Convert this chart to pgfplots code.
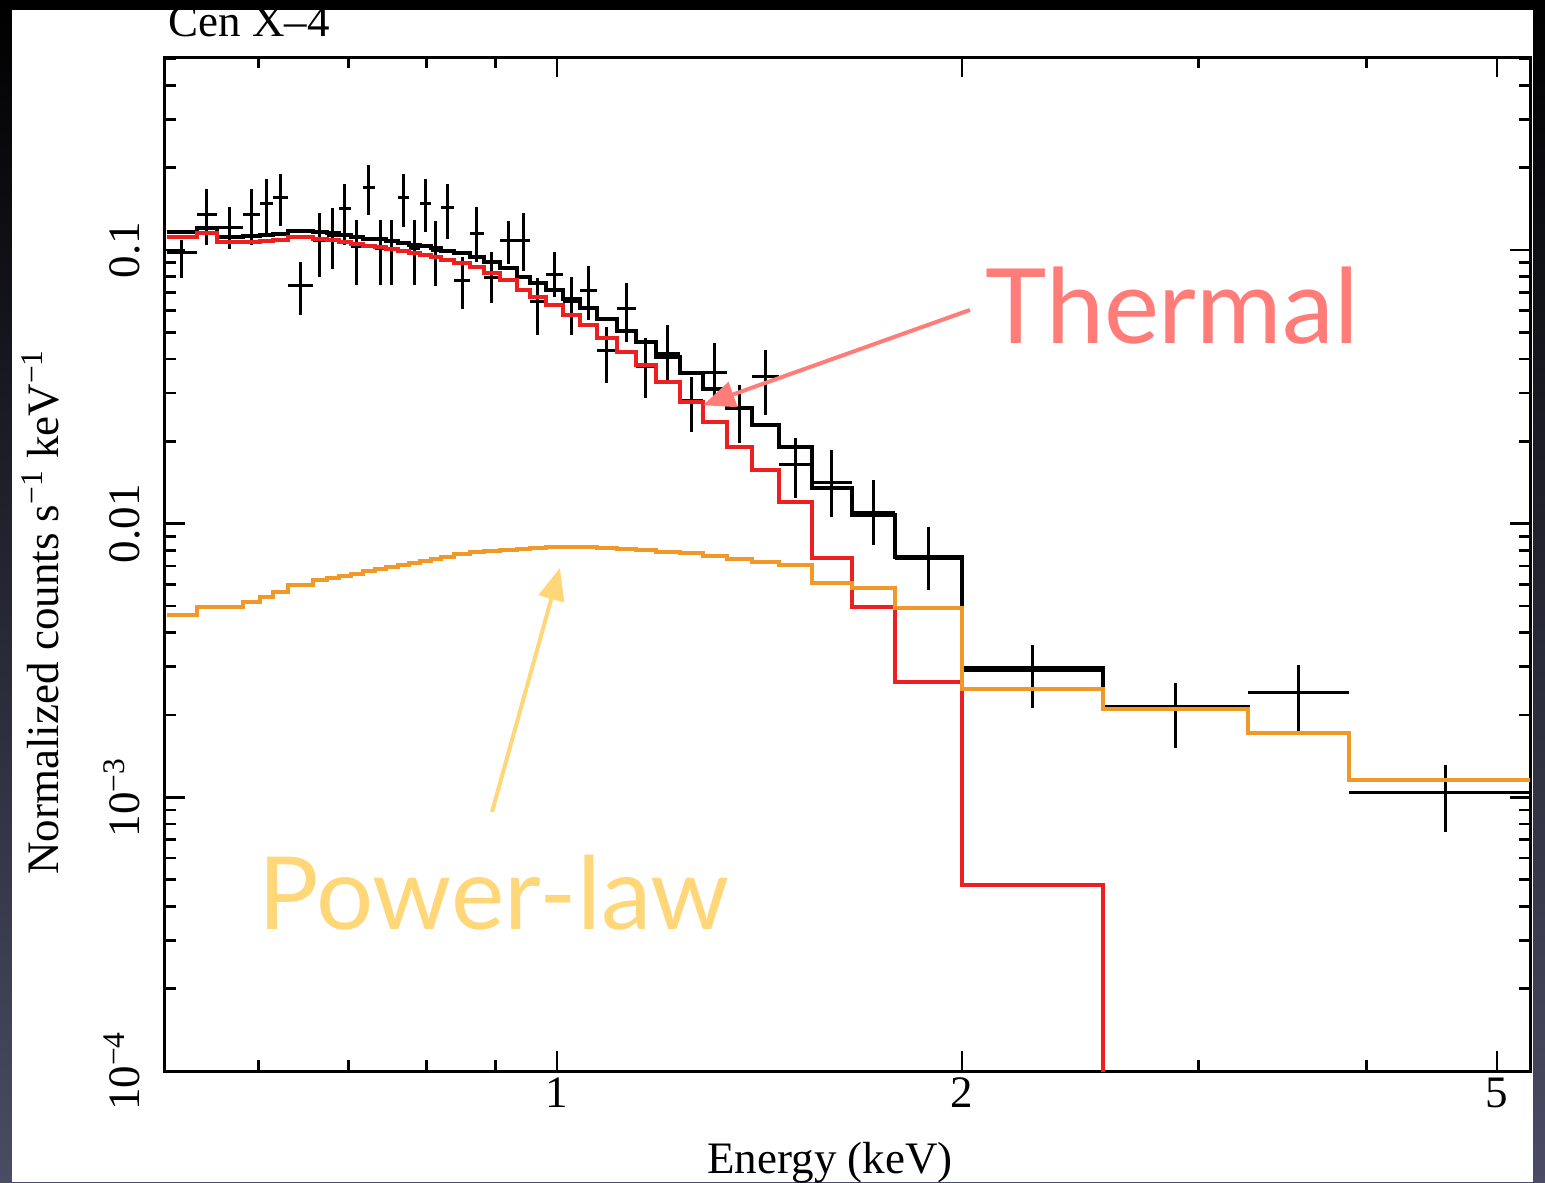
\documentclass[border=0pt]{standalone}
\usepackage{fontspec}
\setmainfont{Liberation Serif}
\newfontfamily\annfont{Lato}
\usepackage{pgfplots}
\pgfplotsset{compat=1.18}
\usepackage{pgfplotstable}
\usetikzlibrary{arrows.meta}

\definecolor{thermalred}{RGB}{236,32,32}
\definecolor{plorange}{RGB}{240,152,40}
\definecolor{thermaltext}{RGB}{255,124,120}
\definecolor{pltext}{RGB}{255,214,120}
\definecolor{bgbottom}{RGB}{74,76,100}

% Folded model: bin lower edge (keV), thermal, power-law and total (counts/s/keV)
\pgfplotstableread{
E      thermal  powerlaw  total
0.5129 0.1116   0.00464   0.1162
0.5400 0.1153   0.00496   0.1203
0.5587 0.1070   0.00496   0.1120
0.5841 0.1070   0.00517   0.1122
0.6015 0.1079   0.00540   0.1133
0.6150 0.1088   0.00563   0.1144
0.6310 0.1116   0.00597   0.1176
0.6586 0.1097   0.00623   0.1159
0.6745 0.1088   0.00633   0.1151
0.6885 0.1070   0.00644   0.1134
0.7028 0.1052   0.00655   0.1118
0.7174 0.1034   0.00672   0.1101
0.7323 0.1026   0.00683   0.1094
0.7462 0.1008   0.00695   0.1078
0.7617 0.0992   0.00706   0.1063
0.7762 0.0975   0.00719   0.1047
0.7909 0.0959   0.00731   0.1032
0.8059 0.0943   0.00743   0.1017
0.8199 0.0919   0.00756   0.0995
0.8384 0.0897   0.00775   0.0975
0.8617 0.0867   0.00788   0.0946
0.8826 0.0824   0.00795   0.0904
0.9070 0.0777   0.00801   0.0857
0.9338 0.0714   0.00808   0.0795
0.9548 0.0673   0.00815   0.0755
0.9813 0.0630   0.00822   0.0712
1.0103 0.0579   0.00822   0.0661
1.0402 0.0532   0.00822   0.0614
1.0709 0.0477   0.00815   0.0559
1.1082 0.0424   0.00808   0.0505
1.1449 0.0380   0.00801   0.0460
1.1847 0.0329   0.00788   0.0408
1.2344 0.0278   0.00782   0.0356
1.2840 0.0235   0.00762   0.0311
1.3378 0.0191   0.00743   0.0265
1.3963 0.0157   0.00725   0.0230
1.4623 0.0120   0.00706   0.0191
1.5472 0.00749  0.00607   0.01356
1.6570 0.00496  0.00582   0.01078
1.7836 0.00264  0.00492   0.00756
2.0000 0.000479 0.00249   0.00297
2.5466 1e-6     0.00210   0.00214
3.2642 1e-6     0.00172   0.00172
3.8800 1e-6     0.001158  0.001158
5.4000 1e-6     0.001158  0.001158
}\model

% Binned spectrum: centre, bin edges, rate and 1-sigma bounds
\pgfplotstableread{
x      xlo    xhi    y        ylo      yhi
0.5263 0.5129 0.5400 0.0983   0.0790   0.1088
0.5493 0.5400 0.5587 0.1354   0.1043   0.1670
0.5713 0.5587 0.5841 0.1213   0.1008   0.1436
0.5927 0.5841 0.6015 0.1354   0.1043   0.1670
0.6082 0.6015 0.6150 0.1484   0.1134   0.1817
0.6229 0.6150 0.6310 0.1562   0.1224   0.1895
0.6447 0.6310 0.6586 0.0739   0.0579   0.0904
0.6665 0.6586 0.6745 0.1079   0.0797   0.1365
0.6815 0.6745 0.6885 0.1134   0.0852   0.1424
0.6956 0.6885 0.7028 0.1424   0.1043   0.1742
0.7101 0.7028 0.7174 0.1026   0.0745   0.1287
0.7248 0.7174 0.7323 0.1699   0.1342   0.2045
0.7392 0.7323 0.7462 0.1017   0.0745   0.1287
0.7539 0.7462 0.7617 0.1017   0.0745   0.1287
0.7689 0.7617 0.7762 0.1562   0.1213   0.1895
0.7835 0.7762 0.7909 0.1017   0.0745   0.1287
0.7984 0.7909 0.8059 0.1484   0.1163   0.1817
0.8129 0.8059 0.8199 0.1000   0.0739   0.1276
0.8291 0.8199 0.8384 0.1436   0.1097   0.1742
0.8500 0.8384 0.8617 0.0777   0.0609   0.0943
0.8721 0.8617 0.8826 0.1153   0.0904   0.1436
0.8947 0.8826 0.9070 0.0797   0.0640   0.0983
0.9203 0.9070 0.9338 0.1079   0.0889   0.1276
0.9442 0.9338 0.9548 0.1079   0.0838   0.1365
0.9680 0.9548 0.9813 0.0646   0.0489   0.0790
0.9957 0.9813 1.0103 0.0817   0.0673   0.0983
1.0251 1.0103 1.0402 0.0646   0.0489   0.0797
1.0554 1.0402 1.0709 0.0714   0.0555   0.0874
1.0894 1.0709 1.1082 0.0431   0.0327   0.0523
1.1264 1.1082 1.1449 0.0609   0.0461   0.0757
1.1646 1.1449 1.1847 0.0374   0.0288   0.0477
1.2093 1.1847 1.2344 0.0420   0.0335   0.0532
1.2590 1.2344 1.2840 0.0283   0.0216   0.0344
1.3106 1.2840 1.3378 0.0358   0.0283   0.0457
1.3667 1.3378 1.3963 0.0265   0.0197   0.0321
1.4289 1.3963 1.4623 0.0344   0.0249   0.0431
1.5042 1.4623 1.5472 0.0164   0.0124   0.0206
1.6012 1.5472 1.6570 0.0141   0.01058  0.0186
1.7191 1.6570 1.7836 0.01103  0.00836  0.0144
1.8887 1.7836 2.0000 0.00749  0.00573  0.00973
2.2568 2.0000 2.5466 0.00290  0.00212  0.00360
2.8832 2.5466 3.2642 0.00210  0.00152  0.00262
3.5588 3.2642 3.8800 0.00241  0.00173  0.00305
4.5800 3.8800 5.4000 0.001038 0.000747 0.00131
}\spectrum

\begin{document}
\begin{tikzpicture}
\shade[top color=black, bottom color=bgbottom] (0,0) rectangle (772.5pt,-591pt);
\fill[white] (6pt,-5pt) rectangle (766.5pt,-591pt);

\begin{axis}[
  at={(82.5pt,-535.5pt)}, anchor=south west,
  scale only axis, width=682.5pt, height=507pt,
  xmode=log, ymode=log,
  xmin=0.5112, xmax=5.29, ymin=1e-4, ymax=0.5073,
  axis line style={line width=1.5pt},
  every tick/.style={black, line width=1.3pt},
  major tick length=10pt, minor tick length=5.5pt,
  tick align=inside, tick pos=both,
  xtick={1,2,5}, xticklabels={1,2,5},
  minor xtick={0.6,0.7,0.8,0.9,3,4},
  ytick={1e-4,1e-3,1e-2,1e-1},
  yticklabels={10\textsuperscript{−4},10\textsuperscript{−3},0.01,0.1},
  minor ytick={2e-4,3e-4,4e-4,5e-4,6e-4,7e-4,8e-4,9e-4,
               2e-3,3e-3,4e-3,5e-3,6e-3,7e-3,8e-3,9e-3,
               0.02,0.03,0.04,0.05,0.06,0.07,0.08,0.09,
               0.2,0.3,0.4,0.5},
  tick label style={font=\fontsize{22.5}{27}\selectfont},
  yticklabel style={rotate=90, anchor=south},
  yticklabel shift=9pt,
]
\addplot[only marks, mark=text, text mark={}, black,
  error bars/.cd, x dir=both, x explicit, y dir=both, y explicit,
  error mark=none, error bar style={line width=1.5pt, black}]
  table[x=x, y=y,
    x error plus expr=\thisrow{xhi}-\thisrow{x},
    x error minus expr=\thisrow{x}-\thisrow{xlo},
    y error plus expr=\thisrow{yhi}-\thisrow{y},
    y error minus expr=\thisrow{y}-\thisrow{ylo}] {\spectrum};
\addplot[const plot, black, line width=2pt] table[x=E, y=total] {\model};
\addplot[const plot, thermalred, line width=1.8pt] table[x=E, y=thermal] {\model};
\addplot[const plot, plorange, line width=1.8pt] table[x=E, y=powerlaw] {\model};

\coordinate (thTail) at (axis cs:2.028,0.0604);
\coordinate (thTip)  at (axis cs:1.284,0.0271);
\coordinate (plTail) at (axis cs:0.8947,0.000884);
\coordinate (plTip)  at (axis cs:1.005,0.00689);
\end{axis}

\draw[thermaltext, line width=2pt, -{Triangle[length=16pt,width=13pt]}] (thTail) -- (thTip);
\draw[pltext, line width=2pt, -{Triangle[length=16pt,width=13pt]}] (plTail) -- (plTip);
\node[anchor=base west, inner sep=0, text=thermaltext, font=\annfont\fontsize{52}{60}\selectfont] at (492.5pt,-171.5pt) {Thermal};
\node[anchor=base west, inner sep=0, text=pltext, font=\annfont\fontsize{50.5}{60}\selectfont] at (129pt,-464.5pt) {Power-law};

\node[anchor=base west, inner sep=0, font=\fontsize{22.5}{27}\selectfont] at (84pt,-18.5pt) {Cen X–4};
\node[anchor=base, inner sep=0, font=\fontsize{22.5}{27}\selectfont] at (415pt,-586.5pt) {Energy (keV)};
\node[rotate=90, anchor=base, inner sep=0, font=\fontsize{22.5}{27}\selectfont] at (29pt,-306pt) {Normalized counts s\textsuperscript{−1} keV\textsuperscript{−1}};

\pgfresetboundingbox
\useasboundingbox (0,0) rectangle (772.5pt,-591pt);
\end{tikzpicture}
\end{document}
